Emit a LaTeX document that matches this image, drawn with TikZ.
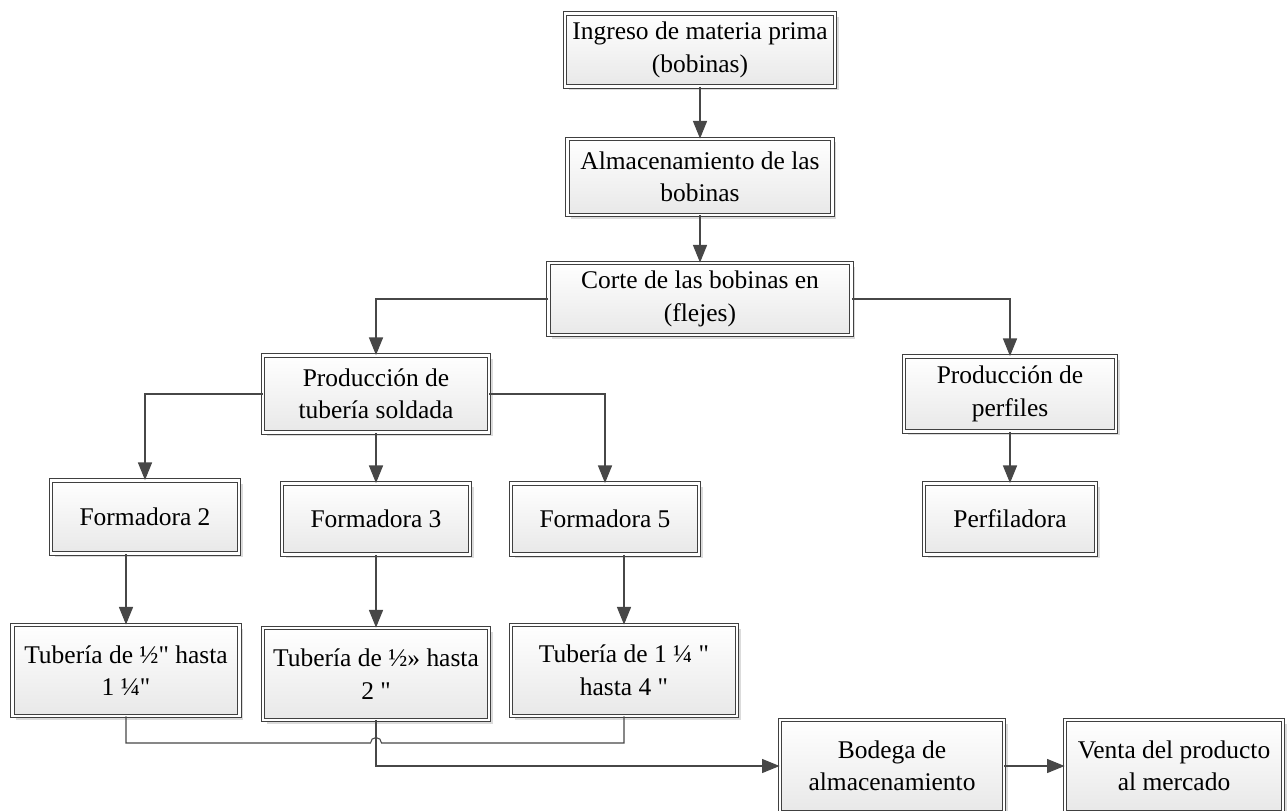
\documentclass[tikz,border=0pt]{standalone}
\usepackage{fontspec}
\setmainfont{Liberation Serif}[Ligatures=TeXOff]
\usepackage{tikz}
\usetikzlibrary{arrows.meta,shadows}

\begin{document}
\begin{tikzpicture}[>={Triangle[length=10pt,width=8pt]},
    box/.style={draw=black!75, line width=0.5pt, double=white, double distance=1.4pt,
        top color=white, bottom color=black!9, align=center, inner sep=2pt,
        font=\fontsize{14.5}{18.5}\selectfont,
        drop shadow={shadow xshift=0.07cm, shadow yshift=-0.07cm, fill=black!14, opacity=1}},
    line/.style={draw=black!72, line width=0.6pt},
    arr/.style={line, ->, black!72}]
    \useasboundingbox (0,0) rectangle (25.76,-16.2);
    % main line
    \node[box, minimum width=5.4cm, minimum height=1.46cm] (ingreso) at (14.0,-1.0) {Ingreso de materia prima\\(bobinas)};
    \node[box, minimum width=5.3cm, minimum height=1.52cm] (almac) at (14.0,-3.54) {Almacenamiento de las\\bobinas};
    \node[box, minimum width=6.06cm, minimum height=1.44cm] (corte) at (14.0,-5.98) {Corte de las bobinas en\\(flejes)};
    \node[box, minimum width=4.52cm, minimum height=1.54cm] (prodtub) at (7.52,-7.88) {Producción de\\tubería soldada};
    \node[box, minimum width=4.24cm, minimum height=1.5cm] (prodperf) at (20.2,-7.88) {Producción de\\perfiles};
    % formadoras
    \node[box, minimum width=3.76cm, minimum height=1.46cm] (form2) at (2.9,-10.34) {Formadora 2};
    \node[box, minimum width=3.76cm, minimum height=1.42cm] (form3) at (7.52,-10.38) {Formadora 3};
    \node[box, minimum width=3.76cm, minimum height=1.42cm] (form5) at (12.1,-10.38) {Formadora 5};
    \node[box, minimum width=3.44cm, minimum height=1.42cm] (perfil) at (20.2,-10.38) {Perfiladora};
    % productos
    \node[box, minimum width=4.54cm, minimum height=1.82cm] (tub1) at (2.52,-13.41) {Tubería de ½" hasta\\1 ¼"};
    \node[box, minimum width=4.52cm, minimum height=1.84cm] (tub2) at (7.52,-13.48) {Tubería de ½» hasta\\2 "};
    \node[box, minimum width=4.52cm, minimum height=1.82cm] (tub3) at (12.48,-13.41) {Tubería de 1 ¼ "\\hasta 4 "};
    \node[box, minimum width=4.48cm, minimum height=1.84cm] (bodega) at (17.84,-15.32) {Bodega de\\almacenamiento};
    \node[box, minimum width=4.36cm, minimum height=1.84cm] (venta) at (23.48,-15.32) {Venta del producto\\al mercado};

    \draw[arr] (ingreso) -- (almac);
    \draw[arr] (almac) -- (corte);
    \draw[arr] (corte.west) -| (prodtub.north);
    \draw[arr] (corte.east) -| (prodperf.north);
    \draw[arr] (prodtub.west) -| (form2.north);
    \draw[arr] (prodtub) -- (form3);
    \draw[arr] (prodtub.east) -| (form5.north);
    \draw[arr] (prodperf) -- (perfil);
    \draw[arr] (form2.south -| tub1.north) -- (tub1.north);
    \draw[arr] (form3) -- (tub2);
    \draw[arr] (form5.south -| tub3.north) -- (tub3.north);
    % union con salto
    \coordinate (hop) at (7.41,-14.86);
    \draw[line] (tub1.south) |- (hop) arc[start angle=180, end angle=0, radius=0.11] -| (tub3.south);
    \draw[arr] (tub2.south) |- (bodega.west);
    \draw[arr] (bodega) -- (venta);
\end{tikzpicture}
\end{document}
